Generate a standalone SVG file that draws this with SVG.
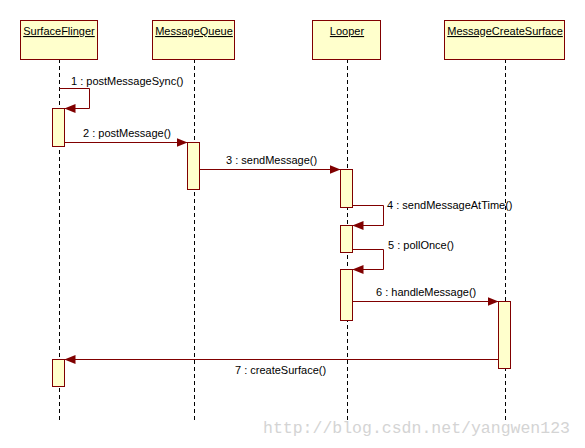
<svg xmlns="http://www.w3.org/2000/svg" width="585" height="448" viewBox="0 0 585 448">
<defs>
<marker id="ah" markerWidth="11" markerHeight="9" refX="11" refY="4.5" orient="auto" markerUnits="userSpaceOnUse">
<path d="M0,0 L11,4.5 L0,9 Z" fill="#800000"/>
</marker>
</defs>
<style>
.box{fill:#FFFFCC;stroke:#800000;stroke-width:1}
.act{fill:#FFFFCC;stroke:#800000;stroke-width:1}
.life{stroke:#000;stroke-width:1;stroke-dasharray:4,3;fill:none}
.msg{stroke:#800000;stroke-width:1;fill:none}
.lbl{font-family:"Liberation Sans",Arial,sans-serif;font-size:11px;fill:#000}
.name{font-family:"Liberation Sans",Arial,sans-serif;font-size:11px;fill:#000;text-decoration:underline;text-anchor:middle}
.wm{font-family:"Liberation Mono","Courier New",monospace;font-size:16.5px;fill:#d4d4d4}
</style>
<rect width="585" height="448" fill="#fff"/>
<g id="lifelines">
<line class="life" x1="59.5" y1="59" x2="59.5" y2="422"/>
<line class="life" x1="194.5" y1="59" x2="194.5" y2="422"/>
<line class="life" x1="347.5" y1="59" x2="347.5" y2="422"/>
<line class="life" x1="505.5" y1="59" x2="505.5" y2="422"/>
</g>
<g id="SurfaceFlinger">
<rect class="box" x="20.5" y="20.5" width="77" height="39"/>
<text class="name" x="59" y="35">SurfaceFlinger</text>
<rect class="act" x="52.5" y="108.5" width="12" height="38"/>
<rect class="act" x="52.5" y="359.5" width="12" height="27"/>
</g>
<g id="MessageQueue">
<rect class="box" x="152.5" y="20.5" width="82" height="39"/>
<text class="name" x="194" y="35">MessageQueue</text>
<rect class="act" x="187.5" y="142.5" width="12" height="47"/>
</g>
<g id="Looper">
<rect class="box" x="312.5" y="20.5" width="68" height="39"/>
<text class="name" x="347" y="35">Looper</text>
<rect class="act" x="340.5" y="169.5" width="12" height="38"/>
<rect class="act" x="340.5" y="225.5" width="12" height="27"/>
<rect class="act" x="340.5" y="269.5" width="12" height="51"/>
</g>
<g id="MessageCreateSurface">
<rect class="box" x="444.5" y="20.5" width="120" height="39"/>
<text class="name" x="505" y="35">MessageCreateSurface</text>
<rect class="act" x="498.5" y="301.5" width="12" height="67"/>
</g>
<g id="connectors">
<polyline class="msg" points="59.5,88.5 89.5,88.5 89.5,108.5 64.5,108.5" marker-end="url(#ah)"/>
<line class="msg" x1="64.5" y1="142.5" x2="187.5" y2="142.5" marker-end="url(#ah)"/>
<line class="msg" x1="199.5" y1="169.5" x2="340.5" y2="169.5" marker-end="url(#ah)"/>
<polyline class="msg" points="352.5,205.5 383.5,205.5 383.5,225.5 352.5,225.5" marker-end="url(#ah)"/>
<polyline class="msg" points="352.5,249.5 383.5,249.5 383.5,269.5 352.5,269.5" marker-end="url(#ah)"/>
<line class="msg" x1="352.5" y1="301.5" x2="498.5" y2="301.5" marker-end="url(#ah)"/>
<line class="msg" x1="498.5" y1="359.5" x2="64.5" y2="359.5" marker-end="url(#ah)"/>
</g>
<g id="labels">
<text class="lbl" x="71" y="85">1 : postMessageSync()</text>
<text class="lbl" x="83" y="137">2 : postMessage()</text>
<text class="lbl" x="226" y="164">3 : sendMessage()</text>
<text class="lbl" x="387" y="209">4 : sendMessageAtTime()</text>
<text class="lbl" x="388" y="249">5 : pollOnce()</text>
<text class="lbl" x="376" y="296">6 : handleMessage()</text>
<text class="lbl" x="235" y="374">7 : createSurface()</text>
</g>
<text class="wm" x="263" y="433">http://blog.csdn.net/yangwen123</text>
</svg>
